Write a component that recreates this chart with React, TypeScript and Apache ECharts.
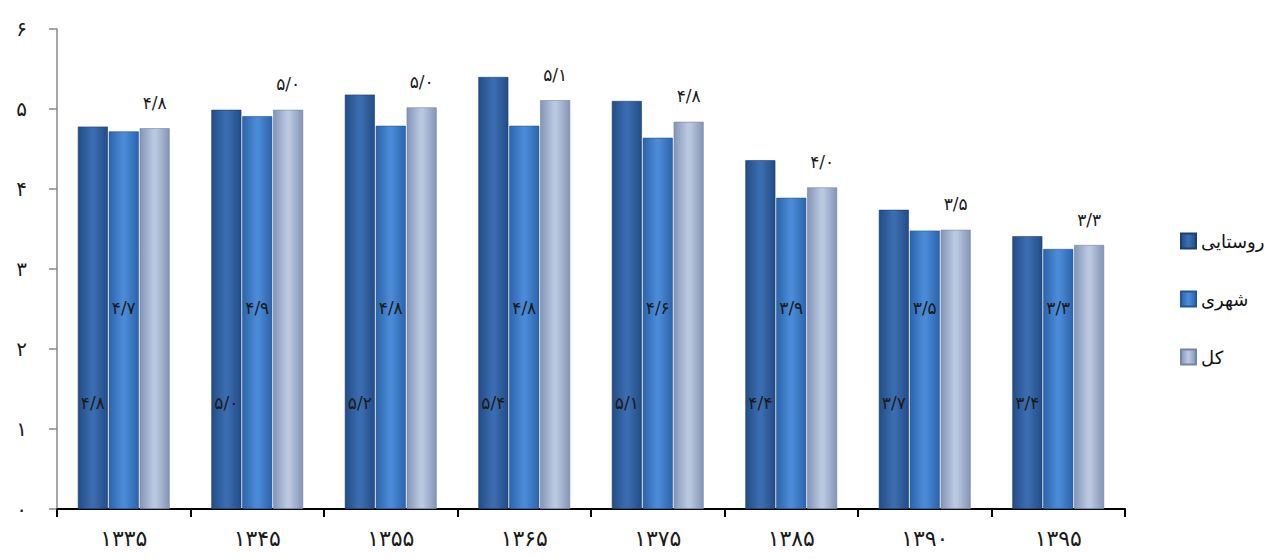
import React, { useEffect, useRef } from "react";
import * as echarts from "echarts";

const categories = ["۱۳۳۵", "۱۳۴۵", "۱۳۵۵", "۱۳۶۵", "۱۳۷۵", "۱۳۸۵", "۱۳۹۰", "۱۳۹۵"];
const seriesNames = ["روستایی", "شهری", "کل"];
const ruralValues = [4.78, 4.99, 5.18, 5.4, 5.1, 4.36, 3.74, 3.41];
const urbanValues = [4.72, 4.91, 4.79, 4.79, 4.64, 3.89, 3.48, 3.25];
const totalValues = [4.76, 4.99, 5.02, 5.11, 4.84, 4.02, 3.49, 3.3];
const ruralLabels = ["۴/۸", "۵/۰", "۵/۲", "۵/۴", "۵/۱", "۴/۴", "۳/۷", "۳/۴"];
const urbanLabels = ["۴/۷", "۴/۹", "۴/۸", "۴/۸", "۴/۶", "۳/۹", "۳/۵", "۳/۳"];
const totalLabels = ["۴/۸", "۵/۰", "۵/۰", "۵/۱", "۴/۸", "۴/۰", "۳/۵", "۳/۳"];
const yTickLabels = ["۰", "۱", "۲", "۳", "۴", "۵", "۶"];

const FONT = "DejaVu Sans";

function grad(edge: string, mid: string) {
  return new echarts.graphic.LinearGradient(0, 0, 1, 0, [
    { offset: 0, color: edge },
    { offset: 0.45, color: mid },
    { offset: 0.55, color: mid },
    { offset: 1, color: edge },
  ]);
}

export default function App() {
  const ref = useRef<HTMLDivElement>(null);
  useEffect(() => {
    if (!ref.current) return;
    const chart = echarts.init(ref.current, null, { renderer: "svg" });
    const labelBase = { show: true, color: "#1a1a1a", fontFamily: FONT, fontSize: 17 };
    chart.setOption({
      animation: false,
      backgroundColor: "#fff",
      grid: { left: 57, right: 147, top: 29, bottom: 50, containLabel: false },
      legend: {
        orient: "vertical",
        left: 1175,
        top: 227,
        itemWidth: 15,
        itemHeight: 15,
        itemGap: 40,
        icon: "rect",
        textStyle: { fontFamily: FONT, fontSize: 18, color: "#111" },
        data: seriesNames,
      },
      xAxis: {
        type: "category",
        data: categories,
        axisLine: { lineStyle: { color: "#000", width: 2 } },
        axisTick: { show: true, length: 8, lineStyle: { color: "#000", width: 2 } },
        axisLabel: { fontFamily: FONT, fontSize: 22, color: "#1a1a1a", margin: 18 },
      },
      yAxis: {
        type: "value",
        min: 0,
        max: 6,
        interval: 1,
        splitLine: { show: false },
        axisLine: { show: true, lineStyle: { color: "#888", width: 1.5 } },
        axisTick: { show: true, length: 8, lineStyle: { color: "#888", width: 1.5 } },
        axisLabel: {
          fontFamily: FONT,
          fontSize: 20,
          color: "#1a1a1a",
          margin: 30,
          formatter: (v: number) => yTickLabels[v] ?? "",
        },
      },
      series: [
        {
          name: seriesNames[0],
          type: "bar",
          data: ruralValues,
          barWidth: 30,
          barGap: "3%",
          itemStyle: { color: grad("#234C86", "#3A6CAF"), borderColor: "#1C3F70", borderWidth: 0.6 },
          label: {
            ...labelBase,
            position: "insideBottom",
            distance: 98,
            formatter: (p: any) => ruralLabels[p.dataIndex],
          },
        },
        {
          name: seriesNames[1],
          type: "bar",
          data: urbanValues,
          barWidth: 30,
          barGap: "3%",
          itemStyle: { color: grad("#2B64AB", "#4A8AD6"), borderColor: "#24569A", borderWidth: 0.6 },
          label: {
            ...labelBase,
            position: "insideBottom",
            distance: 193,
            formatter: (p: any) => urbanLabels[p.dataIndex],
          },
        },
        {
          name: seriesNames[2],
          type: "bar",
          data: totalValues,
          barWidth: 30,
          barGap: "3%",
          itemStyle: { color: grad("#8494B5", "#B9C7E0"), borderColor: "#7585A6", borderWidth: 0.6 },
          label: {
            ...labelBase,
            position: "top",
            distance: 17,
            formatter: (p: any) => totalLabels[p.dataIndex],
          },
        },
      ],
    });
    return () => chart.dispose();
  }, []);
  return (
    <div
      ref={ref}
      style={{ position: "fixed", left: 0, top: 0, width: 1272, height: 559, background: "#fff" }}
    />
  );
}
